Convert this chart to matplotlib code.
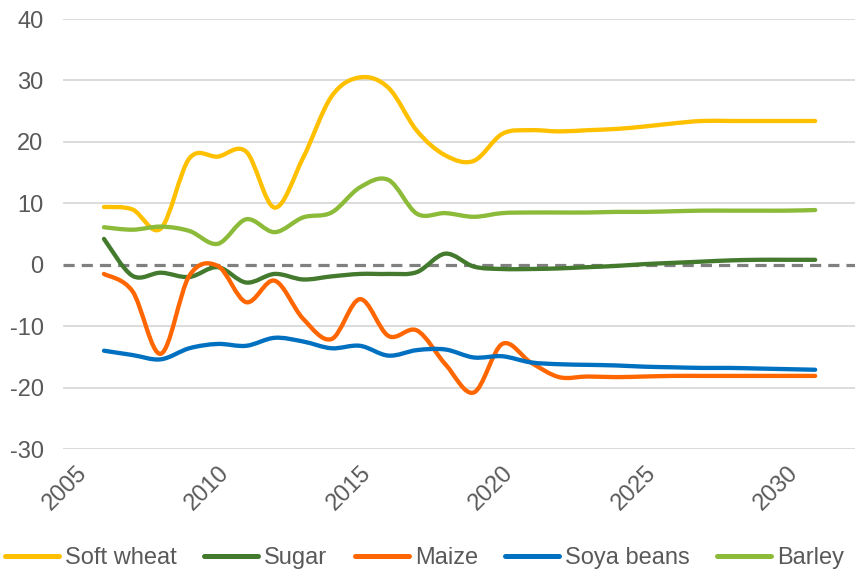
import numpy as np
import matplotlib

matplotlib.use("Agg")
import matplotlib.pyplot as plt
from matplotlib.path import Path
from matplotlib.patches import PathPatch
from matplotlib.lines import Line2D

plt.rcParams["font.family"] = ["Liberation Sans", "DejaVu Sans"]
plt.rcParams["axes.unicode_minus"] = False

years = list(range(2006, 2032))

soft_wheat = [9.4, 9.0, 5.9, 17.3, 17.6, 18.4, 9.3, 17.4, 27.4, 30.5, 28.8, 21.8, 17.8, 16.9,
              21.3, 21.9, 21.7, 21.9, 22.1, 22.5, 23.0, 23.4, 23.4, 23.4, 23.4, 23.4]
sugar = [4.2, -1.8, -1.3, -2.0, -0.4, -2.9, -1.5, -2.4, -1.9, -1.5, -1.5, -1.2, 1.8, -0.3,
         -0.7, -0.7, -0.6, -0.4, -0.2, 0.1, 0.3, 0.5, 0.7, 0.8, 0.8, 0.8]
maize = [-1.5, -4.3, -14.5, -1.8, -0.2, -6.1, -2.6, -8.8, -12.1, -5.6, -11.6, -10.7, -16.2, -20.8,
         -12.9, -15.9, -18.3, -18.2, -18.3, -18.2, -18.1, -18.1, -18.1, -18.1, -18.1, -18.1]
soya_beans = [-14.0, -14.7, -15.4, -13.6, -12.9, -13.2, -11.9, -12.5, -13.6, -13.2, -14.8, -13.9,
              -13.8, -15.1, -14.9, -15.9, -16.2, -16.3, -16.4, -16.6, -16.7, -16.8, -16.8, -16.9,
              -17.0, -17.1]
barley = [6.1, 5.7, 6.2, 5.5, 3.4, 7.4, 5.3, 7.7, 8.5, 12.6, 13.8, 8.3, 8.4, 7.8,
          8.4, 8.5, 8.5, 8.5, 8.6, 8.6, 8.7, 8.8, 8.8, 8.8, 8.8, 8.9]

series = [
    ("Soft wheat", soft_wheat, "#FFC000"),
    ("Sugar", sugar, "#437A2E"),
    ("Maize", maize, "#FF6600"),
    ("Soya beans", soya_beans, "#0070C0"),
    ("Barley", barley, "#8CBB3A"),
]

x_ticks = [2005, 2010, 2015, 2020, 2025, 2030]
y_ticks = [-30, -20, -10, 0, 10, 20, 30, 40]


def smooth_path(xs, ys):
    # spreadsheet-style smoothed line: cubic bezier through every point
    pts = np.column_stack([xs, ys]).astype(float)
    n = len(pts)
    verts = [pts[0]]
    codes = [Path.MOVETO]
    for i in range(n - 1):
        p0 = pts[max(i - 1, 0)]
        p1 = pts[i]
        p2 = pts[i + 1]
        p3 = pts[min(i + 2, n - 1)]
        c1 = p1 + (p2 - p0) / 6.0
        c2 = p2 - (p3 - p1) / 6.0
        verts += [c1, c2, p2]
        codes += [Path.CURVE4] * 3
    return Path(verts, codes)


fig = plt.figure(figsize=(8.55, 5.69), dpi=100)
ax = fig.add_axes([63 / 855, 1 - 449 / 569, 1 - 63 / 855, (449 - 19) / 569])

for yv in y_ticks:
    if yv != 0:
        ax.axhline(yv, color="#D9D9D9", lw=1.3, zorder=1)
ax.axhline(0, color="#808080", lw=2.3, ls=(0, (3.5, 2.2)), zorder=1)

handles = []
for name, vals, col in series:
    patch = PathPatch(smooth_path(years, vals), fill=False, edgecolor=col, lw=3.1,
                      capstyle="round", joinstyle="round", zorder=3)
    ax.add_patch(patch)
    handles.append(Line2D([], [], color=col, lw=3.6, solid_capstyle="round"))

ax.set_xlim(2004.56, 2032.4)
ax.set_ylim(-30, 40)
ax.set_xticks(x_ticks)
ax.set_xticklabels([str(v) for v in x_ticks], rotation=45, ha="right", va="top",
                   rotation_mode="anchor")
ax.set_yticks(y_ticks)
ax.tick_params(axis="both", length=0, labelsize=17, colors="#595959")
ax.tick_params(axis="y", pad=14)
ax.tick_params(axis="x", pad=9)
for s in ax.spines.values():
    s.set_visible(False)

fig.legend(handles, [s[0] for s in series], loc="center left",
           bbox_to_anchor=(5 / 855, 11 / 569), ncol=5, frameon=False,
           fontsize=17, labelcolor="#595959", handlelength=2.3, handletextpad=0.25,
           columnspacing=1.15, borderpad=0, borderaxespad=0)

fig.savefig("out.png", dpi=100)
